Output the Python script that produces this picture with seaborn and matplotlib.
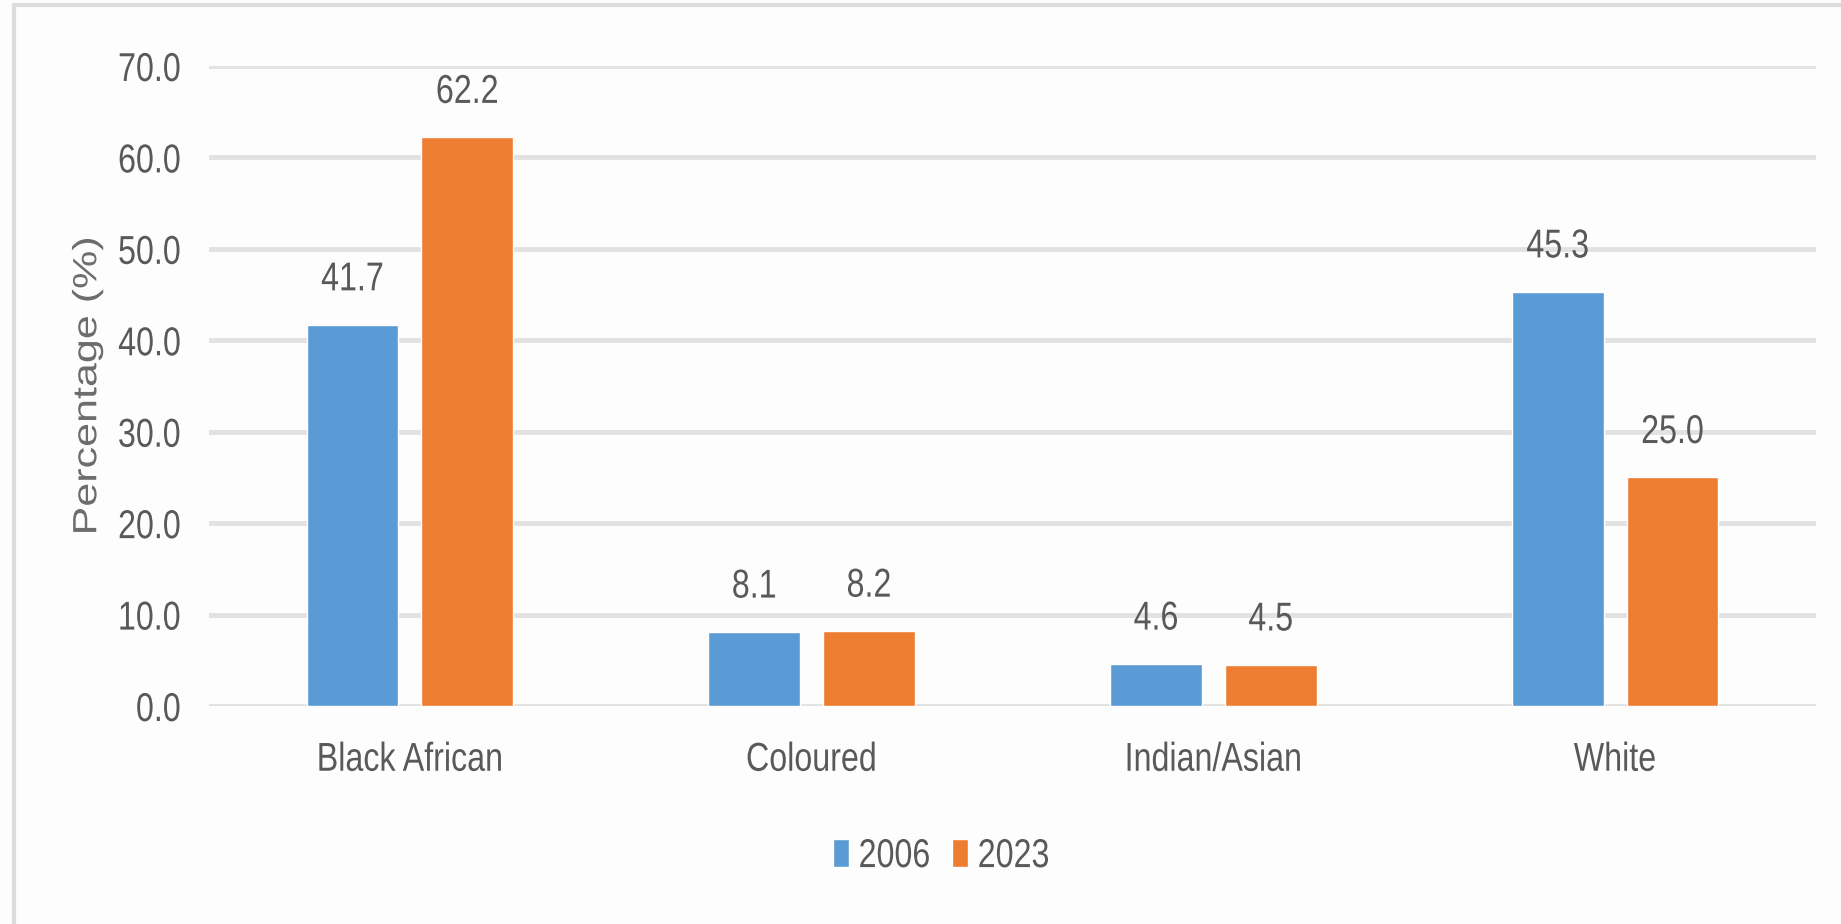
import pandas as pd
import seaborn as sns
from matplotlib import pyplot as plt
from matplotlib import patheffects
from matplotlib.lines import Line2D
from matplotlib.transforms import Affine2D

# data
groups = ['Black African', 'Coloured', 'Indian/Asian', 'White']
years = ['2006', '2023']
pct_2006 = [41.7, 8.1, 4.6, 45.3]
pct_2023 = [62.2, 8.2, 4.5, 25.0]
yticks = [0, 10, 20, 30, 40, 50, 60, 70]

colours = {'2006': '#5B9BD5', '2023': '#ED7D31'}
text_grey = '#595959'


class Squeeze(patheffects.AbstractPathEffect):
    r"""
    Draws text narrower (narrow font look) around a chosen anchor.

    """
    def __init__(self, s=0.8, anchor='center', axis='x'):
        super().__init__()
        self.s = s
        self.anchor = anchor
        self.axis = axis

    def draw_path(self, renderer, gc, tpath, affine, rgbFace=None):
        ext = tpath.get_extents()
        if self.axis == 'y':
            c = (ext.y0 + ext.y1) / 2
            t = Affine2D().translate(0, -c).scale(1, self.s).translate(0, c)
        else:
            if self.anchor == 'right':
                c = ext.x1
            elif self.anchor == 'left':
                c = ext.x0
            else:
                c = (ext.x0 + ext.x1) / 2
            t = Affine2D().translate(-c, 0).scale(self.s, 1).translate(c, 0)
        renderer.draw_path(gc, tpath, t + affine, rgbFace)


df = pd.DataFrame({
    'group': groups * 2,
    'year': [years[0]] * len(groups) + [years[1]] * len(groups),
    'pct': pct_2006 + pct_2023,
})

sns.set_style('white')
plt.rcParams['font.family'] = ['Liberation Sans', 'DejaVu Sans']

fig = plt.figure(figsize=(18.41, 9.24), dpi=100, facecolor='#fdfdfd')
ax = fig.add_axes([0.1135, 0.2359, 0.8729, 0.6927])
ax.set_facecolor('#fdfdfd')

sns.barplot(data=df, x='group', y='pct', hue='year', order=groups,
            hue_order=years, palette=colours, width=0.571, gap=0.2,
            saturation=1, ax=ax, legend=True)

for cont in ax.containers:
    labs = ax.bar_label(cont, fmt='%.1f', padding=19, fontsize=29,
                        color=text_grey)
    for t in labs:
        t.set_path_effects([Squeeze(0.8)])

ax.set_ylim(0, 70)
ax.set_xlim(-0.5, len(groups) - 0.5)
ax.set_yticks(yticks)
ax.set_yticklabels(['%.1f' % t for t in yticks])
ax.tick_params(axis='y', length=0, pad=20, labelsize=29, labelcolor=text_grey)
ax.tick_params(axis='x', length=0, pad=25, labelsize=29, labelcolor=text_grey)
for t in ax.get_yticklabels():
    t.set_path_effects([Squeeze(0.8, anchor='right')])
for t in ax.get_xticklabels():
    t.set_path_effects([Squeeze(0.8)])
ax.yaxis.grid(True, color='#e2e2e2', linewidth=3.5)
ax.set_axisbelow(True)
for side in ['top', 'right', 'left', 'bottom']:
    ax.spines[side].set_visible(False)
ax.set_xlabel('')
ylab = ax.set_ylabel('Percentage (%)', fontsize=31, color='#6d6d6d')
ylab.set_path_effects([Squeeze(0.78, axis='y')])
ax.yaxis.set_label_coords(-0.063, 0.5)

handles, labels = ax.get_legend_handles_labels()
ax.legend_.remove()
leg = fig.legend(handles, labels, loc='center', bbox_to_anchor=(0.516, 0.0735),
                 ncol=2, frameon=False, fontsize=29, labelcolor=text_grey,
                 handlelength=0.4, handleheight=0.7, handletextpad=0.23,
                 columnspacing=0.1)
for t in leg.get_texts():
    t.set_path_effects([Squeeze(0.8, anchor='left')])

# light frame of the chart area
fig.add_artist(Line2D([0.0075, 0.0075], [0.0, 0.9946], color='#dcdcdc',
                      linewidth=3, transform=fig.transFigure))
fig.add_artist(Line2D([0.0075, 1.0], [0.9946, 0.9946], color='#dcdcdc',
                      linewidth=3, transform=fig.transFigure))

fig.savefig('out.png', dpi=100, facecolor=fig.get_facecolor())
plt.close()
